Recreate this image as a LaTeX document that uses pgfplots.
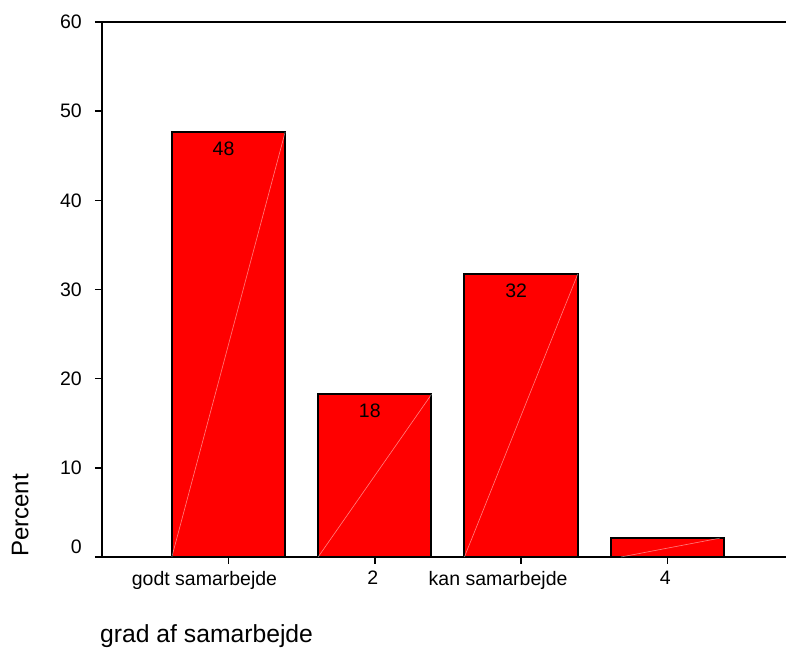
\documentclass[border=0pt]{standalone}
\usepackage{pgfplots}
\pgfplotsset{compat=1.18}
\usepackage{fontspec}
\setmainfont{Liberation Sans}
\begin{document}
\begin{tikzpicture}
\begin{axis}[
  name=ax,
  scale only axis,
  width=684pt, height=535pt,
  xmin=0.1353, xmax=4.8106,
  ymin=0, ymax=60,
  axis lines*=left,
  axis line style={line width=2pt, black},
  ytick={10,20,30,40,50,60},
  extra y ticks={0},
  extra y tick style={yticklabel style={yshift=10pt}},
  xtick={1,2,3,4},
  xticklabels={\hspace*{-48pt}godt samarbejde,\hspace*{-4pt}2,\hspace*{-46pt}kan samarbejde,\hspace*{-4pt}4},
  tick align=outside,
  major tick length=7pt,
  tick style={line width=1.5pt, black},
  /pgf/number format/assume math mode=true,
  tick label style={font=\fontsize{19.5}{22}\selectfont},
  yticklabel style={anchor=east, inner sep=0pt, xshift=-13pt},
  xticklabel style={anchor=north, inner sep=0pt, yshift=-7pt},
  xlabel={grad af samarbejde},
  ylabel={Percent},
  xlabel style={font=\fontsize{24.7}{28}\selectfont, at={(rel axis cs:0,0)}, anchor=base west, inner sep=0pt, yshift=-86pt, xshift=-2pt},
  ylabel style={font=\fontsize{24}{28}\selectfont, at={(rel axis cs:0,0)}, anchor=base west, inner sep=0pt, xshift=0pt, yshift=73.7pt},
  clip=false,
]
\addplot[ybar, bar width=0.775, fill=red, draw=black, line width=2pt,
  point meta=explicit symbolic,
  nodes near coords,
  every node near coord/.append style={anchor=north, inner sep=0pt, yshift=-9pt, xshift=-5pt, font=\fontsize{19.5}{22}\selectfont, text=black}]
  coordinates {(1,47.67)[48] (2,18.24)[18] (3,31.74)[32] (4,2.11)[]};
\addplot[white, opacity=0.5, line width=0.6pt] coordinates {(0.6125,0) (1.3875,47.67)};
\addplot[white, opacity=0.5, line width=0.6pt] coordinates {(1.6125,0) (2.3875,18.24)};
\addplot[white, opacity=0.5, line width=0.6pt] coordinates {(2.6125,0) (3.3875,31.74)};
\addplot[white, opacity=0.5, line width=0.6pt] coordinates {(3.6825,0) (4.3575,2.11)};
\end{axis}
\draw[line width=2pt] (ax.north west) -- (ax.north east);
\pgfresetboundingbox
\path[use as bounding box] ([xshift=-102pt,yshift=-94pt]ax.south west) rectangle ([yshift=22pt]ax.north east);
\end{tikzpicture}
\end{document}
